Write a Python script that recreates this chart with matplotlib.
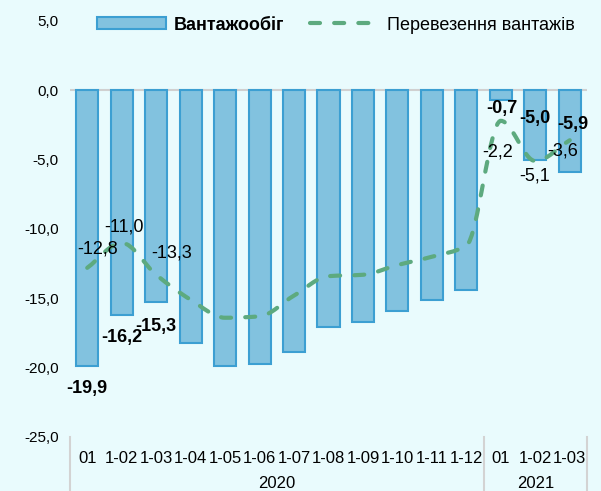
import matplotlib
matplotlib.use("Agg")
import matplotlib.pyplot as plt
from matplotlib.path import Path
from matplotlib.patches import PathPatch, Patch
from matplotlib.lines import Line2D
import numpy as np

plt.rcParams['font.family'] = ['Liberation Sans', 'DejaVu Sans']

categories = ["01", "1-02", "1-03", "1-04", "1-05", "1-06", "1-07", "1-08", "1-09",
              "1-10", "1-11", "1-12", "01", "1-02", "1-03"]
years = ["2020", "2021"]
year_counts = [12, 3]
cargo_turnover = [-19.9, -16.2, -15.3, -18.2, -19.9, -19.7, -18.9, -17.1, -16.7,
                  -15.9, -15.1, -14.4, -0.7, -5.0, -5.9]
cargo_transport = [-12.8, -11.0, -13.3, -15.1, -16.4, -16.3, -14.8, -13.4, -13.3,
                   -12.6, -12.0, -11.2, -2.2, -5.1, -3.6]
series_names = ["Вантажообіг", "Перевезення вантажів"]

bg = "#E9FBFD"
bar_face = "#82C2DF"
bar_edge = "#3C9FD2"
line_col = "#5DAA7F"
dash = (0, (2.4, 3.4))

W, H = 601, 491
fig = plt.figure(figsize=(W / 100, H / 100), dpi=100, facecolor=bg)
ax = fig.add_axes([70 / W, 1 - 437 / H, (587 - 70) / W, (437 - 21) / H])
ax.set_facecolor(bg)

x = np.arange(len(categories))
ax.bar(x, cargo_turnover, width=0.64, color=bar_face, edgecolor=bar_edge, linewidth=1.5, zorder=2)

# smooth curve through the points: monotone cubic (Fritsch-Carlson) tangents, Bezier segments
xs = x.astype(float)
ys = np.array(cargo_transport, dtype=float)
n = len(xs)
d = np.diff(ys)
m = np.zeros(n)
m[0], m[-1] = d[0], d[-1]
for i in range(1, n - 1):
    if d[i - 1] * d[i] <= 0:
        m[i] = 0.0
    else:
        m[i] = 2.0 / (1.0 / d[i - 1] + 1.0 / d[i])
verts = [(xs[0], ys[0])]
codes = [Path.MOVETO]
for i in range(n - 1):
    verts += [(xs[i] + 1 / 3, ys[i] + m[i] / 3),
              (xs[i + 1] - 1 / 3, ys[i + 1] - m[i + 1] / 3),
              (xs[i + 1], ys[i + 1])]
    codes += [Path.CURVE4] * 3
ax.add_patch(PathPatch(Path(verts, codes), facecolor="none", edgecolor=line_col, linewidth=3.0,
                       linestyle=dash, capstyle="round", zorder=3))

ax.set_xlim(-0.5, len(categories) - 0.5)
ax.set_ylim(-25, 5)
yt = np.arange(-25, 5.1, 5)
ax.set_yticks(yt)
ax.set_yticklabels([f"{v:.1f}".replace(".", ",") for v in yt], fontsize=11)
ax.set_xticks(x)
ax.set_xticklabels(categories, fontsize=12)
ax.tick_params(axis="both", length=0)
ax.tick_params(axis="x", pad=10)
ax.tick_params(axis="y", pad=8)
for s in ax.spines.values():
    s.set_visible(False)
ax.axhline(0, color="#D0D0D0", linewidth=1.5, zorder=1)

# year group separators and labels
trans = ax.get_xaxis_transform()
bounds = [-0.5]
for c in year_counts:
    bounds.append(bounds[-1] + c)
for b in bounds:
    ax.plot([b, b], [0, -54 / 416], transform=trans, color="#D3D3D3", linewidth=1.5, clip_on=False)
for i, yname in enumerate(years):
    ax.text((bounds[i] + bounds[i + 1]) / 2, -46 / 416, yname, transform=trans,
            ha="center", va="center", fontsize=12)

# bar labels (bold)
bar_label_off = {0: (0, -22), 1: (0, -23), 2: (0, -24), 12: (1, -8), 13: (0, 41), 14: (3, 48)}
for i, (dx, dy) in bar_label_off.items():
    ax.annotate(f"{cargo_turnover[i]:.1f}".replace(".", ","), (x[i], cargo_turnover[i]),
                xytext=(dx, dy), textcoords="offset pixels", ha="center", va="center",
                fontsize=13, fontweight="bold", zorder=5)

# line labels
line_label_off = {0: (10, 19), 1: (2, 16), 2: (15, 22), 12: (-3, -31), 13: (-1, -15), 14: (-7, -11)}
for i, (dx, dy) in line_label_off.items():
    ax.annotate(f"{cargo_transport[i]:.1f}".replace(".", ","), (x[i], cargo_transport[i]),
                xytext=(dx, dy), textcoords="offset pixels", ha="center", va="center",
                fontsize=13, zorder=5)

handles = [Patch(facecolor=bar_face, edgecolor=bar_edge, linewidth=1.5),
           Line2D([0], [0], color=line_col, linewidth=3.0, linestyle=dash, dash_capstyle="round")]
leg = fig.legend(handles, series_names, loc="center", bbox_to_anchor=(336 / W, 1 - 25 / H),
                 ncol=2, frameon=False, fontsize=13, handlelength=3.8, handleheight=0.67,
                 columnspacing=1.45, handletextpad=0.45, borderpad=0, borderaxespad=0)
leg.get_texts()[0].set_fontweight("bold")

fig.savefig("out.png", dpi=100, facecolor=bg)
